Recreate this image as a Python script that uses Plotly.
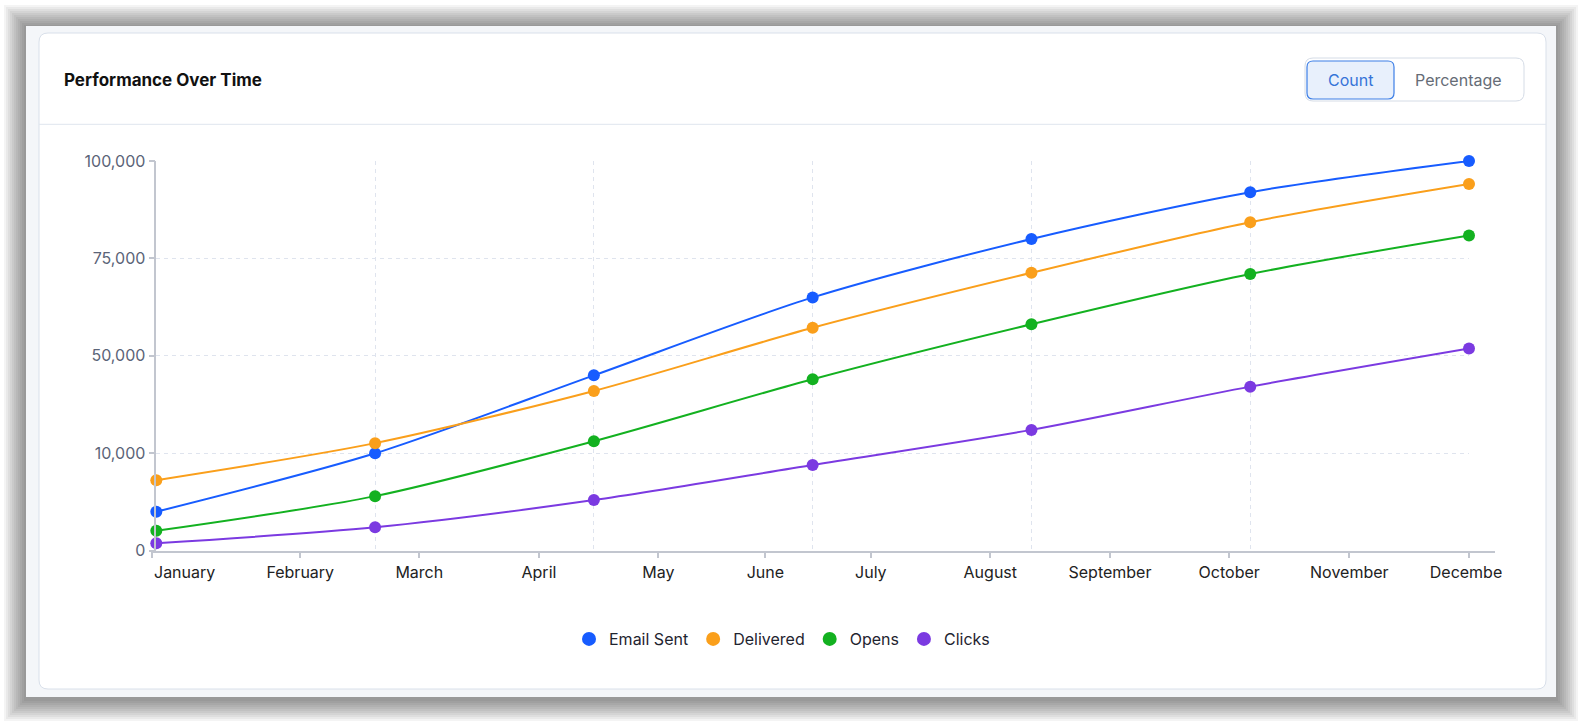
import plotly.graph_objects as go

# chart data (values as placed on the linear y scale of the picture)
months = ['January', 'February', 'March', 'April', 'May', 'June',
          'July', 'August', 'September', 'October', 'November', 'December']
series_names = ['Email Sent', 'Delivered', 'Opens', 'Clicks']
email_sent = [10000, 25000, 45000, 65000, 80000, 92000, 100000]
delivered = [18100, 27600, 41000, 57200, 71300, 84300, 94100]
opens = [5100, 14000, 28100, 44000, 58100, 71000, 80900]
clicks = [1900, 6000, 13000, 22000, 31000, 42100, 51900]
y_tickvals = [0, 25000, 50000, 75000, 100000]
y_ticktext = ['0', '10,000', '50,000', '75,000', '100,000']

colors = ['#175cff', '#fa9f1b', '#13b120', '#7b3ae1']

# layout helpers (pixel -> paper)
W, H = 1582, 724


def px(x):
    return x / W


def py(y):
    return 1 - y / H


def rrect(x0, y0, x1, y1, r):
    # rounded rectangle path in paper coords
    a, b, c, d = px(x0), py(y0), px(x1), py(y1)
    rx, ry = r / W, r / H
    return (f'M{a + rx},{b} L{c - rx},{b} Q{c},{b} {c},{b - ry} '
            f'L{c},{d + ry} Q{c},{d} {c - rx},{d} L{a + rx},{d} '
            f'Q{a},{d} {a},{d + ry} L{a},{b - ry} Q{a},{b} {a + rx},{b} Z')


FONT = 'Inter, Roboto, sans-serif'
# where the month ticks sit, in data-step units
month_pos = [-0.021, 0.658, 1.202, 1.749, 2.295, 2.784, 3.266, 3.812, 4.359, 4.904, 5.453, 6.0]
x_unit = (1469 - 156.3) / 6

fig = go.Figure()
idx = list(range(len(email_sent)))
for name, vals, col in zip(series_names, [email_sent, delivered, opens, clicks], colors):
    fig.add_trace(go.Scatter(
        x=idx, y=vals, mode='lines+markers', name=name, showlegend=False,
        line=dict(color=col, width=2, shape='spline', smoothing=0.8),
        marker=dict(size=12, color=col), cliponaxis=False,
    ))
# legend entries: dots only
for name, col in zip(series_names, colors):
    fig.add_trace(go.Scatter(x=[None], y=[None], mode='markers', name=name,
                             marker=dict(size=14, color=col)))

shapes = []
# soft shadow around the frame
for i in range(1, 12):
    s = 2 * i
    shapes.append(dict(type='rect', xref='paper', yref='paper', layer='below',
                       x0=px(26 - s), x1=px(1556 + s), y0=py(697 + s + 2), y1=py(26 - s + 1),
                       fillcolor='rgba(0,0,0,0.045)', line=dict(width=0)))
shapes.append(dict(type='rect', xref='paper', yref='paper', layer='below',
                   x0=px(26), x1=px(1556), y0=py(697), y1=py(26),
                   fillcolor='#f4f6f9', line=dict(width=0)))
shapes.append(dict(type='path', xref='paper', yref='paper', layer='below',
                   path=rrect(39, 33, 1546, 689, 9),
                   fillcolor='white', line=dict(color='#d9e0ea', width=1)))
shapes.append(dict(type='line', xref='paper', yref='paper', layer='below',
                   x0=px(39), x1=px(1546), y0=py(124.3), y1=py(124.3),
                   line=dict(color='#dfe5ee', width=1)))
# Count / Percentage toggle
shapes.append(dict(type='path', xref='paper', yref='paper', layer='below',
                   path=rrect(1305, 58, 1524, 101, 8),
                   fillcolor='white', line=dict(color='#d5dce6', width=1)))
shapes.append(dict(type='path', xref='paper', yref='paper', layer='below',
                   path=rrect(1307, 61, 1394, 99, 6),
                   fillcolor='#e8f0fc', line=dict(color='#3d7fe6', width=1.2)))
# the last month label is clipped by the chart box in the original
shapes.append(dict(type='rect', xref='paper', yref='paper', layer='above',
                   x0=px(1502), x1=px(1540), y0=py(592), y1=py(556),
                   fillcolor='white', line=dict(width=0)))

annotations = [
    dict(text='<b>Performance Over Time</b>', xref='paper', yref='paper', x=px(62), y=py(80),
         xanchor='left', yanchor='middle', showarrow=False,
         font=dict(family=FONT, size=17, color='#111111')),
    dict(text='Count', xref='paper', yref='paper', x=px(1350), y=py(80),
         xanchor='center', yanchor='middle', showarrow=False,
         font=dict(family=FONT, size=16, color='#3674d8')),
    dict(text='Percentage', xref='paper', yref='paper', x=px(1458), y=py(80),
         xanchor='center', yanchor='middle', showarrow=False,
         font=dict(family=FONT, size=16, color='#666c76')),
    dict(text=months[0], xref='x2', yref='paper', x=month_pos[0], y=py(572),
         xanchor='left', yanchor='middle', showarrow=False,
         font=dict(family=FONT, size=16, color='#222222')),
]

axis_col = '#c2c6cf'
grid_col = '#dfe4ee'
fig.update_layout(
    template='none',
    width=W, height=H,
    margin=dict(l=0, r=0, t=0, b=0),
    paper_bgcolor='white', plot_bgcolor='rgba(0,0,0,0)',
    font=dict(family=FONT, size=16, color='#222222'),
    shapes=shapes, annotations=annotations,
    xaxis=dict(domain=[px(156.3), px(1469)], range=[0, 6], anchor='y',
               tick0=0, dtick=1, showticklabels=False, ticks='',
               showline=False, zeroline=False, automargin=False,
               showgrid=True, gridcolor=grid_col, gridwidth=1, griddash='4px,4px'),
    yaxis=dict(domain=[py(550.7), py(161)], range=[0, 100000], anchor='x',
               tickmode='array', tickvals=y_tickvals, ticktext=y_ticktext,
               showline=True, linecolor=axis_col, linewidth=1.5,
               ticks='outside', ticklen=6, tickcolor=axis_col, tickwidth=1.5,
               tickfont=dict(size=16, color='#5b6478'), zeroline=False, automargin=False,
               showgrid=True, gridcolor=grid_col, gridwidth=1, griddash='4px,4px'),
    # month labels live on their own axis, slightly wider than the plot area
    xaxis2=dict(domain=[px(151.7), px(1495)], anchor='y2',
                range=[month_pos[0], 6 + (1495 - 1469) / x_unit],
                tickmode='array', tickvals=month_pos, ticktext=[''] + months[1:],
                showline=True, linecolor=axis_col, linewidth=1.5,
                ticks='outside', ticklen=6, tickcolor=axis_col, tickwidth=1.5,
                tickfont=dict(size=16, color='#222222'),
                showgrid=False, zeroline=False, automargin=False),
    yaxis2=dict(domain=[py(550.7), py(161)], range=[0, 100000], anchor='x2',
                visible=False, showgrid=False, zeroline=False),
    legend=dict(orientation='h', x=px(782), xanchor='center', y=py(639), yanchor='middle',
                font=dict(family=FONT, size=16, color='#1f2430'),
                bgcolor='rgba(0,0,0,0)', itemwidth=30),
    hovermode='closest',
)

fig.write_html('out.html', config={'displayModeBar': False},
               post_script="document.body.style.margin='0';document.body.style.overflow='hidden';")
